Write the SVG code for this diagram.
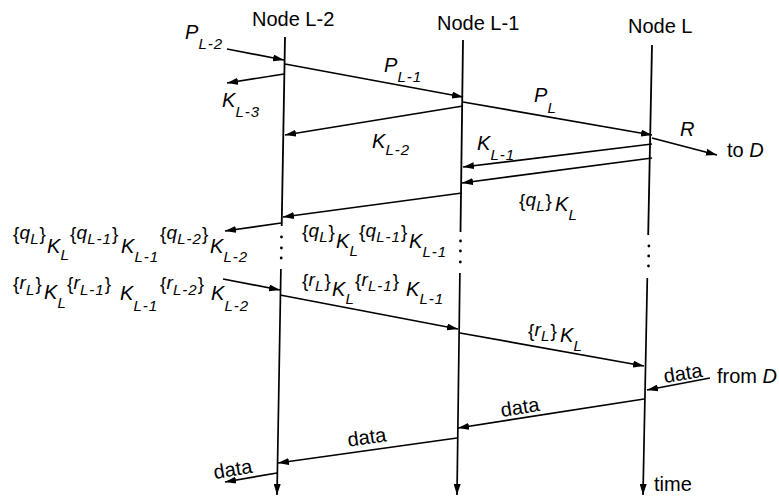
<svg xmlns="http://www.w3.org/2000/svg" width="779" height="497" viewBox="0 0 779 497">
<defs>
<marker id="ah" viewBox="0 0 11 7" refX="11" refY="3.5" markerWidth="11" markerHeight="7" markerUnits="userSpaceOnUse" orient="auto">
<path d="M0,0 L11,3.5 L0,7 z" fill="#000"/>
</marker>
<style>
text{font-family:"Liberation Sans",Arial,sans-serif;fill:#000}
.ln{stroke:#000;stroke-width:1.8;fill:none}
.c{stroke:#000;stroke-width:1.7;fill:none;marker-end:url(#ah)}
.n{font-size:20px}
.i{font-size:20px;font-style:italic}
.q{font-size:19px;font-style:italic}
.b{font-size:19px;font-style:normal}
.s{font-size:15px;font-style:italic;letter-spacing:1px}
</style>
</defs>
<rect width="779" height="497" fill="#fff"/>

<g id="node-L-2">
<text class="n" x="252" y="26">Node L-2</text>
<path class="ln" d="M285,37 L281.7,226"/>
<path class="c" d="M280.9,269 L277,495"/>
<circle cx="281.5" cy="237" r="1.4"/><circle cx="281.4" cy="248" r="1.4"/><circle cx="281.2" cy="258" r="1.4"/>
</g>
<g id="node-L-1">
<text class="n" x="437" y="30">Node L-1</text>
<path class="ln" d="M463,40 L460.5,232"/>
<path class="c" d="M459.9,273 L457,495"/>
<circle cx="460.5" cy="241" r="1.4"/><circle cx="460.4" cy="251" r="1.4"/><circle cx="460.3" cy="262" r="1.4"/>
</g>
<g id="node-L">
<text class="n" x="628" y="33">Node L</text>
<path class="ln" d="M652,45 L648.2,235"/>
<path class="c" d="M647.3,278 L643,495"/>
<circle cx="648.9" cy="246" r="1.4"/><circle cx="648.7" cy="256" r="1.4"/><circle cx="648.5" cy="266" r="1.4"/>
<text class="n" x="654" y="491">time</text>
</g>

<g id="connectors">
<path class="c" d="M227,49 L284,60"/>
<path class="c" d="M284,74 L227,83"/>
<path class="c" d="M285,64 L463,97"/>
<path class="c" d="M463,102 L652,135"/>
<path class="c" d="M652,138 L717,155"/>
<path class="c" d="M463,106 L285,135"/>
<path class="c" d="M652,144 L463,167"/>
<path class="c" d="M652,158 L462,183"/>
<path class="c" d="M462,193 L283,217"/>
<path class="c" d="M281,223 L225,231"/>
<path class="c" d="M223,279 L280,290"/>
<path class="c" d="M280,295 L458,329"/>
<path class="c" d="M460,333 L644,366"/>
<path class="c" d="M710,378 L647,390"/>
<path class="c" d="M644,399 L458,428"/>
<path class="c" d="M457,438 L278,463"/>
<path class="c" d="M277,473 L225,482"/>
</g>

<g id="labels">
<text><tspan class="i" x="185" y="39">P</tspan><tspan class="s" x="198.5" y="49">L-2</tspan></text>
<text><tspan class="i" x="222" y="107">K</tspan><tspan class="s" x="235.5" y="117">L-3</tspan></text>
<text><tspan class="i" x="384" y="72">P</tspan><tspan class="s" x="397.5" y="82">L-1</tspan></text>
<text><tspan class="i" x="534" y="102">P</tspan><tspan class="s" x="547.5" y="113">L</tspan></text>
<text class="i" x="680" y="136">R</text>
<text class="n" x="727" y="157">to <tspan style="font-style:italic">D</tspan></text>
<text><tspan class="i" x="372" y="148">K</tspan><tspan class="s" x="385.5" y="155">L-2</tspan></text>
<text><tspan class="i" x="477" y="150">K</tspan><tspan class="s" x="490.5" y="160">L-1</tspan></text>

<text><tspan class="b" x="519" y="207">{</tspan><tspan class="q" x="525.5" y="206">q</tspan><tspan class="s" x="536.2" y="211">L</tspan><tspan class="b" x="545.6" y="207">}</tspan><tspan class="i" x="555" y="211">K</tspan><tspan class="s" x="568.5" y="220">L</tspan></text>

<text><tspan class="b" x="302" y="238">{</tspan><tspan class="q" x="308.5" y="237">q</tspan><tspan class="s" x="319.2" y="242">L</tspan><tspan class="b" x="328.6" y="238">}</tspan><tspan class="i" x="336" y="248">K</tspan><tspan class="s" x="349.5" y="256">L</tspan><tspan class="b" x="359" y="238">{</tspan><tspan class="q" x="365.5" y="237">q</tspan><tspan class="s" x="376.2" y="242">L-1</tspan><tspan class="b" x="401" y="238">}</tspan><tspan class="i" x="409" y="248">K</tspan><tspan class="s" x="422.5" y="257">L-1</tspan></text>

<text><tspan class="b" x="13" y="240">{</tspan><tspan class="q" x="19.5" y="239">q</tspan><tspan class="s" x="30.2" y="244">L</tspan><tspan class="b" x="39.6" y="240">}</tspan><tspan class="i" x="47" y="253">K</tspan><tspan class="s" x="60.5" y="260">L</tspan><tspan class="b" x="70" y="240">{</tspan><tspan class="q" x="76.5" y="239">q</tspan><tspan class="s" x="87.2" y="244">L-1</tspan><tspan class="b" x="112" y="240">}</tspan><tspan class="i" x="121" y="253">K</tspan><tspan class="s" x="134.5" y="262">L-1</tspan><tspan class="b" x="160" y="240">{</tspan><tspan class="q" x="166.5" y="239">q</tspan><tspan class="s" x="177.2" y="244">L-2</tspan><tspan class="b" x="202" y="240">}</tspan><tspan class="i" x="210" y="253">K</tspan><tspan class="s" x="223.5" y="262">L-2</tspan></text>

<text><tspan class="b" x="13" y="290">{</tspan><tspan class="q" x="19.5" y="289">r</tspan><tspan class="s" x="26" y="295">L</tspan><tspan class="b" x="35.4" y="290">}</tspan><tspan class="i" x="44" y="299">K</tspan><tspan class="s" x="57.5" y="308">L</tspan><tspan class="b" x="67" y="290">{</tspan><tspan class="q" x="73.5" y="289">r</tspan><tspan class="s" x="80" y="295">L-1</tspan><tspan class="b" x="104.8" y="290">}</tspan><tspan class="i" x="120" y="300">K</tspan><tspan class="s" x="133.5" y="311">L-1</tspan><tspan class="b" x="160" y="290">{</tspan><tspan class="q" x="166.5" y="289">r</tspan><tspan class="s" x="173" y="295">L-2</tspan><tspan class="b" x="197.8" y="290">}</tspan><tspan class="i" x="211" y="300">K</tspan><tspan class="s" x="224.5" y="311">L-2</tspan></text>

<text><tspan class="b" x="302" y="287">{</tspan><tspan class="q" x="308.5" y="286">r</tspan><tspan class="s" x="315" y="291">L</tspan><tspan class="b" x="324.4" y="287">}</tspan><tspan class="i" x="332" y="296">K</tspan><tspan class="s" x="345.5" y="304">L</tspan><tspan class="b" x="355" y="287">{</tspan><tspan class="q" x="361.5" y="286">r</tspan><tspan class="s" x="368" y="291">L-1</tspan><tspan class="b" x="392.8" y="287">}</tspan><tspan class="i" x="406" y="296">K</tspan><tspan class="s" x="419.5" y="304">L-1</tspan></text>

<text><tspan class="b" x="528" y="337">{</tspan><tspan class="q" x="534.5" y="336">r</tspan><tspan class="s" x="541" y="341">L</tspan><tspan class="b" x="550.4" y="337">}</tspan><tspan class="i" x="560" y="342">K</tspan><tspan class="s" x="573.5" y="351">L</tspan></text>

<text class="n" text-anchor="middle" transform="translate(683,374) rotate(-9)" y="6">data</text>
<text class="n" x="717" y="383">from <tspan style="font-style:italic">D</tspan></text>
<text class="n" text-anchor="middle" transform="translate(520,408) rotate(-9)" y="6">data</text>
<text class="n" text-anchor="middle" transform="translate(367,438) rotate(-8)" y="6">data</text>
<text class="n" text-anchor="middle" transform="translate(233,470) rotate(-10)" y="6">data</text>
</g>
</svg>
